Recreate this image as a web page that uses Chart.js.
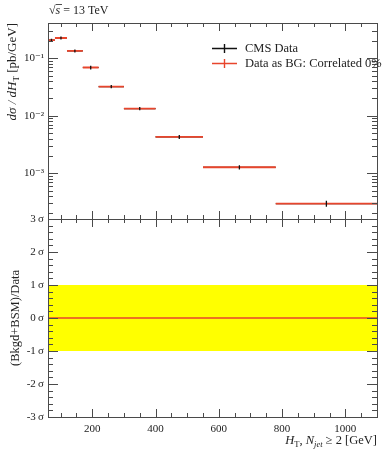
<!DOCTYPE html>
<html>
<head>
<meta charset="utf-8">
<script src="https://cdn.jsdelivr.net/npm/chart.js@4"></script>
<style>
  body { margin: 0; background: #fff; }
  #wrap { position: relative; width: 389px; height: 450px; }
  canvas { position: absolute; left: 0; top: 0; }
</style>
</head>
<body>
<div id="wrap">
  <canvas id="topChart" width="389" height="450"></canvas>
  <canvas id="ratioChart" width="389" height="450"></canvas>
</div>
<script>
// HT bins [GeV] and measured cross sections
const binEdges = [60, 82, 120, 170, 220, 300, 400, 550, 780, 1100];
const cmsValues = [0.206, 0.225, 0.134, 0.069, 0.0322, 0.0133, 0.00428, 0.00127, 0.000297];
const cmsErrors = [0.012, 0.013, 0.008, 0.005, 0.0022, 0.0009, 0.00034, 0.00011, 0.000036];
// background prediction (data as BG, correlated 0%)
const bgValues = [0.206, 0.225, 0.134, 0.069, 0.0322, 0.0133, 0.00428, 0.00127, 0.000297];
// ratio panel
const ratioValues = [0, 0, 0, 0, 0, 0, 0, 0, 0];
const sigmaBand = [-1, 1];

// tick labels
const xTickValues = [200, 400, 600, 800, 1000];
const xTickLabels = ['200', '400', '600', '800', '1000'];
const logTickValues = [0.001, 0.01, 0.1];
const logTickLabels = ['10\u207B\u00B3', '10\u207B\u00B2', '10\u207B\u00B9'];
const sigmaTickValues = [-3, -2, -1, 0, 1, 2, 3];
const sigmaTickLabels = ['-3\u2009\u03C3', '-2\u2009\u03C3', '-1\u2009\u03C3', '0\u2009\u03C3', '1\u2009\u03C3', '2\u2009\u03C3', '3\u2009\u03C3'];

const SERIF = "'Liberation Serif', 'DejaVu Serif', serif";
const RED = '#e8452c';
const FRAME = '#4a4a4a';
const X_MIN = 60, X_MAX = 1100;

Chart.defaults.font.family = SERIF;
Chart.defaults.color = '#222';

function hSegments(values) {
    const pts = [];
    values.forEach((v, i) => {
        pts.push({x: binEdges[i], y: v}, {x: binEdges[i + 1], y: v}, {x: binEdges[i + 1], y: null});
    });
    return pts;
}

function vSegments(values, errors) {
    const pts = [];
    values.forEach((v, i) => {
        const c = (binEdges[i] + binEdges[i + 1]) / 2;
        pts.push({x: c, y: v - errors[i]}, {x: c, y: v + errors[i]}, {x: c, y: null});
    });
    return pts;
}

// text with sub/superscripts: parts = [{t, font, dy}]
function drawRich(ctx, parts, x, y, align) {
    let w = 0;
    parts.forEach(p => { ctx.font = p.font; w += ctx.measureText(p.t).width; });
    let cx = align === 'right' ? x - w : (align === 'center' ? x - w / 2 : x);
    ctx.textAlign = 'left';
    ctx.textBaseline = 'alphabetic';
    parts.forEach(p => {
        ctx.font = p.font;
        ctx.fillText(p.t, cx, y + (p.dy || 0));
        cx += ctx.measureText(p.t).width;
    });
}

function drawFrameAndTicks(chart, xMinor, yMajor, yMinor, yMajLen) {
    const ctx = chart.ctx;
    const a = chart.chartArea;
    const xs = chart.scales.x, ys = chart.scales.y;
    ctx.save();
    ctx.strokeStyle = FRAME;
    ctx.lineWidth = 1;
    ctx.beginPath();
    const tick = (px, len, vertical) => {
        px = Math.round(px) + 0.5;
        if (vertical) {
            ctx.moveTo(px, a.top); ctx.lineTo(px, a.top + len);
            ctx.moveTo(px, a.bottom); ctx.lineTo(px, a.bottom - len);
        } else {
            ctx.moveTo(a.left, px); ctx.lineTo(a.left + len, px);
            ctx.moveTo(a.right, px); ctx.lineTo(a.right - len, px);
        }
    };
    xTickValues.forEach(v => tick(xs.getPixelForValue(v), 8, true));
    xMinor.forEach(v => tick(xs.getPixelForValue(v), 4, true));
    yMajor.forEach(v => {
        const p = ys.getPixelForValue(v);
        if (p > a.top + 1 && p < a.bottom - 1) tick(p, yMajLen, false);
    });
    yMinor.forEach(v => {
        const p = ys.getPixelForValue(v);
        if (p > a.top + 1 && p < a.bottom - 1) tick(p, 5, false);
    });
    ctx.stroke();
    ctx.strokeRect(Math.round(a.left) + 0.5, Math.round(a.top) + 0.5,
        Math.round(a.right - a.left), Math.round(a.bottom - a.top));
    ctx.restore();
}

const xMinorTicks = [];
for (let v = 100; v < X_MAX; v += 50) if (v % 200 !== 0) xMinorTicks.push(v);

const logMajor = [1e-4, 1e-3, 1e-2, 1e-1, 1];
const logMinor = [];
logMajor.forEach(d => { for (let k = 2; k <= 9; k++) logMinor.push(d * k); });

const sigmaMinor = [];
for (let v = -3; v <= 3.001; v += 0.2) {
    const r = Math.round(v * 10) / 10;
    if (Math.abs(r - Math.round(r)) > 0.01) sigmaMinor.push(r);
}

const topDecor = {
    id: 'topDecor',
    afterDraw(chart) {
        drawFrameAndTicks(chart, xMinorTicks, logMajor, logMinor, 10);
        const ctx = chart.ctx;
        ctx.save();
        ctx.fillStyle = '#222';
        // energy label
        drawRich(ctx, [
            {t: '\u221A', font: '12px ' + SERIF},
            {t: 's', font: 'italic 12px ' + SERIF},
            {t: ' = 13 TeV', font: '12px ' + SERIF}
        ], 49, 14, 'left');
        ctx.strokeStyle = '#222';
        ctx.lineWidth = 0.8;
        ctx.beginPath();
        ctx.moveTo(56, 4.5); ctx.lineTo(62, 4.5);
        ctx.stroke();

        // y title, aligned to the top of the panel
        ctx.translate(16, 23);
        ctx.rotate(-Math.PI / 2);
        drawRich(ctx, [
            {t: 'd\u03C3 / dH', font: 'italic 13px ' + SERIF},
            {t: 'T', font: '9px ' + SERIF, dy: 3},
            {t: ' [pb/GeV]', font: '13px ' + SERIF}
        ], 0, 0, 'right');
        ctx.restore();

        // legend
        ctx.save();
        const rows = [
            {label: 'CMS Data', color: '#111', y: 48},
            {label: 'Data as BG: Correlated 0%', color: RED, y: 63}
        ];
        rows.forEach(r => {
            ctx.strokeStyle = r.color;
            ctx.lineWidth = 1.4;
            ctx.beginPath();
            ctx.moveTo(212, r.y + 0.5); ctx.lineTo(237, r.y + 0.5);
            ctx.moveTo(224.5, r.y - 4); ctx.lineTo(224.5, r.y + 5);
            ctx.stroke();
            ctx.fillStyle = '#222';
            ctx.font = '12.5px ' + SERIF;
            ctx.textBaseline = 'middle';
            ctx.textAlign = 'left';
            ctx.fillText(r.label, 245, r.y + 1);
        });
        ctx.restore();
    }
};

const ratioDecor = {
    id: 'ratioDecor',
    afterDraw(chart) {
        drawFrameAndTicks(chart, xMinorTicks, sigmaTickValues, sigmaMinor, 10);
        const ctx = chart.ctx;
        ctx.save();
        ctx.fillStyle = '#222';
        drawRich(ctx, [
            {t: 'H', font: 'italic 12.5px ' + SERIF},
            {t: 'T', font: '8.5px ' + SERIF, dy: 3},
            {t: ', ', font: '12.5px ' + SERIF},
            {t: 'N', font: 'italic 12.5px ' + SERIF},
            {t: 'jet', font: 'italic 8.5px ' + SERIF, dy: 3},
            {t: ' \u2265 2 [GeV]', font: '12.5px ' + SERIF}
        ], 377, 444, 'right');
        ctx.translate(19, 318);
        ctx.rotate(-Math.PI / 2);
        drawRich(ctx, [{t: '(Bkgd+BSM)/Data', font: '12.5px ' + SERIF}], 0, 0, 'center');
        ctx.restore();
    }
};

function fixedWidth(w) { return function(scale) { scale.width = w; }; }

new Chart(document.getElementById('topChart'), {
    type: 'line',
    data: {
        datasets: [
            {label: 'CMS Data', data: hSegments(cmsValues), borderColor: '#111', borderWidth: 1.2, order: 3},
            {label: 'Data as BG: Correlated 0%', data: hSegments(bgValues), borderColor: RED, borderWidth: 1.8, order: 2},
            {label: 'CMS Data errors', data: vSegments(cmsValues, cmsErrors), borderColor: '#111', borderWidth: 1.3, order: 1}
        ]
    },
    options: {
        responsive: false,
        animation: false,
        devicePixelRatio: 1,
        events: [],
        spanGaps: false,
        elements: {point: {radius: 0}, line: {tension: 0}},
        layout: {padding: {top: 23, right: 12, bottom: 231, left: 0}},
        plugins: {legend: {display: false}, tooltip: {enabled: false}},
        scales: {
            x: {type: 'linear', min: X_MIN, max: X_MAX, display: false},
            y: {
                type: 'logarithmic', min: 0.00016, max: 0.41,
                afterFit: fixedWidth(48),
                afterBuildTicks(scale) { scale.ticks = logTickValues.map(v => ({value: v})); },
                grid: {display: false, drawTicks: false},
                border: {display: false},
                ticks: {
                    autoSkip: false, padding: 4, font: {size: 11},
                    callback: function(value) {
                        const i = logTickValues.indexOf(value);
                        return i >= 0 ? logTickLabels[i] : '';
                    }
                }
            }
        }
    },
    plugins: [topDecor]
});

new Chart(document.getElementById('ratioChart'), {
    type: 'line',
    data: {
        datasets: [
            {
                label: 'band',
                data: [{x: X_MIN, y: sigmaBand[1]}, {x: X_MAX, y: sigmaBand[1]}],
                borderWidth: 0, borderColor: 'rgba(0,0,0,0)',
                backgroundColor: '#ffff00',
                fill: {value: sigmaBand[0]}, order: 3
            },
            {label: 'ratio', data: hSegments(ratioValues), borderColor: RED, borderWidth: 1.4, order: 1}
        ]
    },
    options: {
        responsive: false,
        animation: false,
        devicePixelRatio: 1,
        events: [],
        elements: {point: {radius: 0}, line: {tension: 0}},
        layout: {padding: {top: 219, right: 12, bottom: 0, left: 0}},
        plugins: {legend: {display: false}, tooltip: {enabled: false}, filler: {propagate: false}},
        scales: {
            x: {
                type: 'linear', min: X_MIN, max: X_MAX,
                afterFit(scale) { scale.height = 33; },
                afterBuildTicks(scale) { scale.ticks = xTickValues.map(v => ({value: v})); },
                grid: {display: false, drawTicks: false},
                border: {display: false},
                ticks: {
                    autoSkip: false, maxRotation: 0, padding: 6, font: {size: 11},
                    callback: function(value) {
                        const i = xTickValues.indexOf(value);
                        return i >= 0 ? xTickLabels[i] : '';
                    }
                }
            },
            y: {
                type: 'linear', min: -3, max: 3,
                afterFit: fixedWidth(48),
                afterBuildTicks(scale) { scale.ticks = sigmaTickValues.map(v => ({value: v})); },
                grid: {display: false, drawTicks: false},
                border: {display: false},
                ticks: {
                    autoSkip: false, padding: 4, font: {size: 11},
                    callback: function(value) {
                        const i = sigmaTickValues.indexOf(value);
                        return i >= 0 ? sigmaTickLabels[i] : '';
                    }
                }
            }
        }
    },
    plugins: [ratioDecor]
});
</script>
</body>
</html>
